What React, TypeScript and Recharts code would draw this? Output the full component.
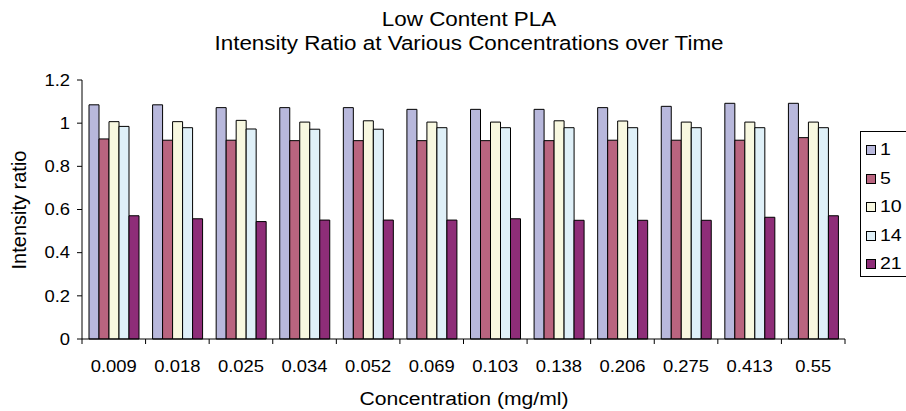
import { BarChart, Bar, XAxis, YAxis, Legend } from 'recharts'

const categories = ['0.009', '0.018', '0.025', '0.034', '0.052', '0.069', '0.103', '0.138', '0.206', '0.275', '0.413', '0.55']

const day1 = [1.085, 1.085, 1.072, 1.072, 1.072, 1.064, 1.064, 1.064, 1.072, 1.078, 1.092, 1.092]
const day5 = [0.927, 0.921, 0.921, 0.919, 0.919, 0.919, 0.919, 0.919, 0.921, 0.921, 0.921, 0.933]
const day10 = [1.007, 1.007, 1.013, 1.005, 1.011, 1.005, 1.005, 1.011, 1.01, 1.005, 1.005, 1.005]
const day14 = [0.985, 0.979, 0.973, 0.972, 0.972, 0.979, 0.979, 0.979, 0.979, 0.979, 0.979, 0.979]
const day21 = [0.571, 0.557, 0.544, 0.551, 0.551, 0.551, 0.557, 0.55, 0.55, 0.55, 0.564, 0.571]

const yTicks = [0, 0.2, 0.4, 0.6, 0.8, 1, 1.2]

const series = [
  { key: 'd1', name: '1', values: day1, color: '#b8b8dc' },
  { key: 'd5', name: '5', values: day5, color: '#b9647f' },
  { key: 'd10', name: '10', values: day10, color: '#f8f8e0' },
  { key: 'd14', name: '14', values: day14, color: '#dff0f8' },
  { key: 'd21', name: '21', values: day21, color: '#8e2d78' },
]

const data = categories.map((c, i) => {
  const row: Record<string, string | number> = { conc: c }
  series.forEach(s => { row[s.key] = s.values[i] })
  return row
})

const W = 906
const H = 411
const FONT = '"Liberation Sans", Arial, sans-serif'
const MARGIN = { top: 80, right: 61, bottom: 0, left: 0 }
const Y_AXIS_W = 82
const TICK_SIZE = 5
const X_TICK_MARGIN = 17
const PLOT_W = W - MARGIN.left - MARGIN.right - Y_AXIS_W
// the original picture is a bit wider than tall, text included
const SX = 1.15

// text stretched sideways around its anchor point
function SText({ x, y, size, anchor = 'middle', dy, children }: any) {
  return (
    <text
      transform={`translate(${x} ${y}) scale(${SX} 1)`}
      dy={dy}
      textAnchor={anchor}
      fontSize={size}
      fontFamily={FONT}
      fill="#000"
    >
      {children}
    </text>
  )
}

function XTick(props: any) {
  const { x, y, payload, index } = props
  const half = payload?.offset || PLOT_W / categories.length / 2
  const axisY = y - TICK_SIZE - X_TICK_MARGIN
  return (
    <g>
      <line x1={x - half} x2={x - half} y1={axisY} y2={axisY + TICK_SIZE} stroke="#000" />
      {index === categories.length - 1 && (
        <line x1={x + half} x2={x + half} y1={axisY} y2={axisY + TICK_SIZE} stroke="#000" />
      )}
      <SText x={x} y={y} size={16} dy="0.71em">{payload.value}</SText>
    </g>
  )
}

function YTick(props: any) {
  const { x, y, payload } = props
  return <SText x={x} y={y} size={16} anchor="end" dy="0.355em">{String(+Number(payload.value).toFixed(1))}</SText>
}

function LegendBox() {
  return (
    <div style={{
      border: '1px solid #000', width: 60, height: 146, boxSizing: 'border-box',
      paddingTop: 4, fontFamily: FONT, fontSize: 17, color: '#000', background: '#fff',
    }}>
      {series.map(s => (
        <div key={s.key} style={{ display: 'flex', alignItems: 'center', height: 28.5, paddingLeft: 5 }}>
          <span style={{
            display: 'inline-block', width: 8, height: 8, background: s.color,
            border: '1px solid #000', marginRight: 4,
          }} />
          <span style={{ display: 'inline-block', transform: `scaleX(${SX})`, transformOrigin: 'left' }}>{s.name}</span>
        </div>
      ))}
    </div>
  )
}

export default function App() {
  return (
    <div style={{ position: 'absolute', left: 0, top: 0, width: W, height: H, background: '#fff' }}>
      <BarChart width={W} height={H} data={data} margin={MARGIN} barGap={0} barSize={10}>
        <XAxis
          dataKey="conc"
          interval={0}
          height={H - MARGIN.top - 259}
          tickLine={false}
          tickSize={TICK_SIZE}
          tickMargin={X_TICK_MARGIN}
          axisLine={{ stroke: '#000' }}
          tick={<XTick />}
        />
        <YAxis
          width={Y_AXIS_W}
          domain={[0, 1.2]}
          ticks={yTicks}
          interval={0}
          tickSize={TICK_SIZE}
          tickMargin={7}
          tick={<YTick />}
          axisLine={{ stroke: '#000' }}
          tickLine={{ stroke: '#000' }}
        />
        {series.map(s => (
          <Bar
            key={s.key}
            dataKey={s.key}
            name={s.name}
            fill={s.color}
            stroke="#000"
            strokeWidth={1}
            isAnimationActive={false}
          />
        ))}
        <Legend
          layout="horizontal"
          align="center"
          verticalAlign="middle"
          wrapperStyle={{ left: 860, top: 131, width: 60, height: 146 }}
          content={() => <LegendBox />}
        />
        <SText x={469} y={26} size={19.5}>Low Content PLA</SText>
        <SText x={469} y={50} size={19.5}>Intensity Ratio at Various Concentrations over Time</SText>
        <SText x={464} y={405} size={18.4}>Concentration (mg/ml)</SText>
        <text x={26} y={210} textAnchor="middle" fontSize={20} fontFamily={FONT} fill="#000"
          transform="rotate(-90 26 210)">
          Intensity ratio
        </text>
      </BarChart>
    </div>
  )
}
